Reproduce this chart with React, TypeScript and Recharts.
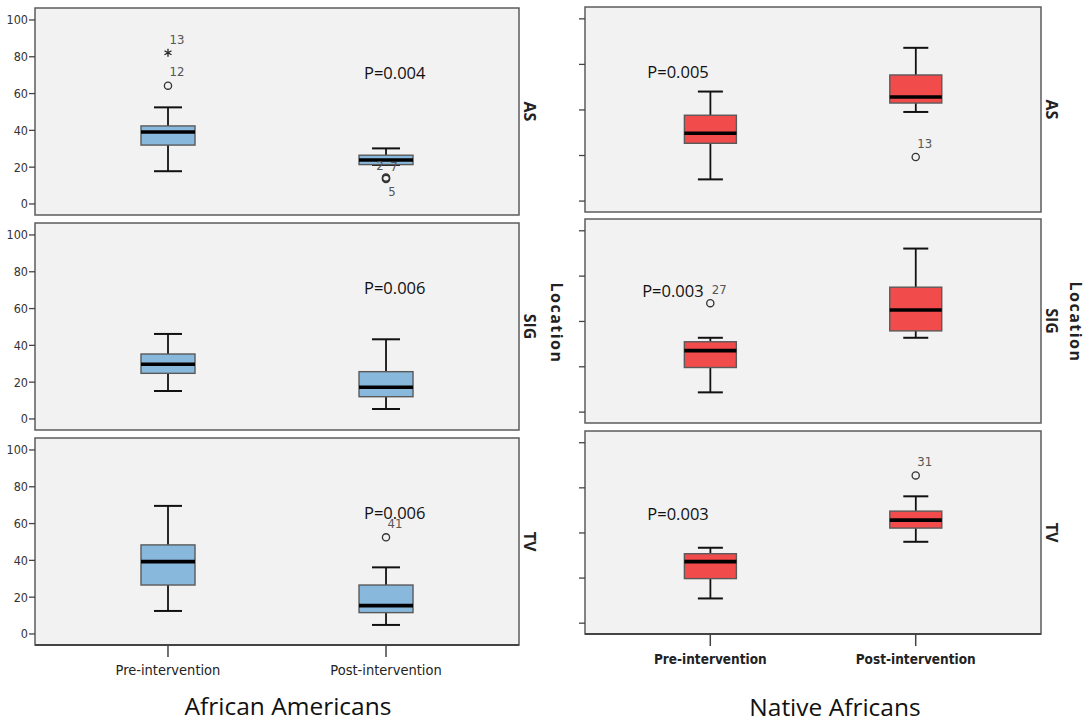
import React from 'react'
import { ComposedChart, Bar, Scatter, XAxis, YAxis, ReferenceArea } from 'recharts'

const groups = ['Pre-intervention', 'Post-intervention']
const measures = ['AS', 'SIG', 'TV']

// box stats per group: [whiskerLow, q1, median, q3, whiskerHigh]
const aaAS = [[17.8, 32.0, 39.1, 42.4, 52.5], [21.2, 21.4, 23.9, 26.5, 30.2]]
const aaSIG = [[15.2, 24.8, 29.7, 35.3, 46.2], [5.4, 12.1, 17.2, 25.7, 43.3]]
const aaTV = [[12.5, 26.6, 39.3, 48.4, 69.6], [4.9, 11.6, 15.4, 26.6, 36.2]]

const naAS = [[11.9, 31.7, 37.2, 47.1, 60.1], [48.9, 53.8, 57.1, 69.2, 84.1]]
const naSIG = [[10.9, 24.6, 33.9, 38.8, 41.0], [41.0, 44.8, 56.3, 68.9, 90.2]]
const naTV = [[13.7, 24.7, 34.1, 38.5, 41.8], [45.1, 52.7, 57.1, 62.1, 70.3]]

// outliers: group index (1 = pre, 2 = post), value, case id
const aaASOut = [
  { g: 1, v: 82.2, id: '13', kind: 'extreme' },
  { g: 1, v: 64.3, id: '12', kind: 'outlier' },
  { g: 2, v: 14.4, id: '2', kind: 'outlier' },
  { g: 2, v: 14.0, id: '7', kind: 'outlier' },
  { g: 2, v: 13.6, id: '5', kind: 'outlier' },
]
const aaSIGOut: any[] = []
const aaTVOut = [{ g: 2, v: 52.5, id: '41', kind: 'outlier' }]
const naASOut = [{ g: 2, v: 24.2, id: '13', kind: 'outlier' }]
const naSIGOut = [{ g: 1, v: 60.1, id: '27', kind: 'outlier' }]
const naTVOut = [{ g: 2, v: 81.9, id: '31', kind: 'outlier' }]

const aaP = ['P=0.004', 'P=0.006', 'P=0.006']
const naP = ['P=0.005', 'P=0.003', 'P=0.003']

const leftTicks = [0, 20, 40, 60, 80, 100]
const rightTicks = [0, 25, 50, 75, 100]

// annotation anchors, in data units
const aaPPos = [[2.04, 71.4], [2.04, 71.4], [2.04, 65.9]]
const naPPos = [[0.843, 71.0], [0.818, 67.2], [0.843, 61.0]]

// label offsets (px) for some case ids, default is up-right
const labelShift: Record<string, [number, number]> = {
  '2': [-6, -12],
  '7': [8, -12],
  '5': [6, 13],
  '13': [9, -13],
}

const X_DOMAIN: [number, number] = [0.39, 2.61]
const Y_DOMAIN: [number, number] = [-6, 106.5]
const narrow = "'Liberation Sans Narrow', 'DejaVu Sans Condensed', sans-serif"

function BoxShape(props: any) {
  const { x, y, width, height, payload, fill, capW, boxW } = props
  const stats = payload && payload.stats
  if (!stats || x == null || y == null) return null
  const [lo, q1, med, q3, hi] = stats
  const top = Math.min(y, y + height)
  const bot = Math.max(y, y + height)
  const py = (v: number) => top + ((bot - top) * (hi - v)) / (hi - lo || 1)
  const cx = x + width / 2
  const bx = cx - boxW / 2
  return (
    <g>
      <line x1={cx} x2={cx} y1={py(hi)} y2={py(q3)} stroke="#111" strokeWidth={1.8} />
      <line x1={cx} x2={cx} y1={py(q1)} y2={py(lo)} stroke="#111" strokeWidth={1.8} />
      <line x1={cx - capW / 2} x2={cx + capW / 2} y1={py(hi)} y2={py(hi)} stroke="#111" strokeWidth={2} />
      <line x1={cx - capW / 2} x2={cx + capW / 2} y1={py(lo)} y2={py(lo)} stroke="#111" strokeWidth={2} />
      <rect x={bx} y={py(q3)} width={boxW} height={py(q1) - py(q3)} fill={fill} stroke="#5a5a5a" strokeWidth={1.4} />
      <line x1={bx} x2={bx + boxW} y1={py(med)} y2={py(med)} stroke="#000" strokeWidth={3.6} />
    </g>
  )
}

function OutlierShape(props: any) {
  const { cx, cy, payload } = props
  if (!payload || cx == null || cy == null) return null
  const [dx, dy] = labelShift[payload.id] || [9, -14]
  const mark =
    payload.kind === 'extreme' ? (
      <g stroke="#222" strokeWidth={1.3}>
        <line x1={cx} x2={cx} y1={cy - 4} y2={cy + 4} />
        <line x1={cx - 3.5} x2={cx + 3.5} y1={cy - 2} y2={cy + 2} />
        <line x1={cx - 3.5} x2={cx + 3.5} y1={cy + 2} y2={cy - 2} />
      </g>
    ) : (
      <circle cx={cx} cy={cy} r={3.6} fill="none" stroke="#333" strokeWidth={1.3} />
    )
  return (
    <g>
      {mark}
      <text x={cx + dx} y={cy + dy} textAnchor="middle" dominantBaseline="central" fontSize={13} fontFamily={narrow} fill="#555">
        {payload.id}
      </text>
    </g>
  )
}

function PText(props: any) {
  const { cx, cy, payload } = props
  if (!payload || cx == null) return null
  return (
    <text x={cx} y={cy} textAnchor="middle" dominantBaseline="central" fontSize={16.5} fontFamily="'Open Sans', sans-serif" fill="#111">
      {payload.text}
    </text>
  )
}

const boxRange = (d: any) => (d && d.stats ? [d.stats[0], d.stats[4]] : null)

function Panel(p: any) {
  const boxes = p.stats.map((s: number[], i: number) => ({ x: i + 1, stats: s }))
  const outPts = p.outliers.map((o: any) => ({ x: o.g, y: o.v, id: o.id, kind: o.kind }))
  const axisH = p.bottomAxis ? 40 : 0
  return (
    <div style={{ position: 'absolute', left: p.left, top: p.top - 2 }}>
      <ComposedChart
        width={p.width}
        height={p.plotH + 4 + axisH}
        data={boxes}
        margin={{ top: 2, right: p.right, bottom: 2, left: 0 }}
      >
        <XAxis
          type="number"
          dataKey="x"
          domain={X_DOMAIN}
          ticks={[1, 2]}
          allowDataOverflow
          hide={!p.bottomAxis}
          height={axisH || 1}
          tickSize={12}
          tickMargin={8}
          tickFormatter={(v: number) => groups[v - 1] || ''}
          tick={{ fontSize: p.boldX ? 13.5 : 14.5, fontFamily: narrow, fill: '#222', fontWeight: p.boldX ? 700 : 400 }}
          tickLine={{ stroke: '#444', strokeWidth: 1.5 }}
          axisLine={{ stroke: '#444', strokeWidth: 2 }}
        />
        <YAxis
          type="number"
          dataKey="y"
          domain={Y_DOMAIN}
          ticks={p.ticks}
          allowDataOverflow
          width={p.yWidth}
          tickSize={6}
          tickMargin={1}
          axisLine={false}
          tickLine={{ stroke: '#444', strokeWidth: 1.3 }}
          tick={{ fontSize: 12.5, fontFamily: narrow, fill: '#333' }}
          tickFormatter={(v: number) => (p.showYLabels ? String(v) : '')}
        />
        <ReferenceArea
          x1={X_DOMAIN[0]}
          x2={X_DOMAIN[1]}
          y1={Y_DOMAIN[0]}
          y2={Y_DOMAIN[1]}
          fill="#f2f2f2"
          fillOpacity={1}
          stroke="#5c5c5c"
          strokeWidth={1.5}
        />
        <Bar
          dataKey={boxRange}
          fill={p.fill}
          isAnimationActive={false}
          shape={(s: any) => <BoxShape {...s} fill={p.fill} capW={p.capW} boxW={p.barW} />}
        />
        <Scatter data={outPts} isAnimationActive={false} shape={(s: any) => <OutlierShape {...s} />} />
        <Scatter
          data={[{ x: p.pPos[0], y: p.pPos[1], text: p.pText }]}
          isAnimationActive={false}
          shape={(s: any) => <PText {...s} />}
        />
      </ComposedChart>
    </div>
  )
}

const leftTops = [8, 223, 438]
const leftH = [207, 207, 207]
const rightTops = [7, 219, 431]
const rightH = [205, 204, 203]

export default function App() {
  const aaStats = [aaAS, aaSIG, aaTV]
  const naStats = [naAS, naSIG, naTV]
  const aaOut = [aaASOut, aaSIGOut, aaTVOut]
  const naOut = [naASOut, naSIGOut, naTVOut]
  const sideFont = "'Open Sans', sans-serif"
  return (
    <div style={{ position: 'absolute', left: 0, top: 0, width: 1086, height: 723, background: '#fff' }}>
      {measures.map((m, i) => (
        <Panel
          key={'aa' + m}
          left={0}
          top={leftTops[i]}
          width={560}
          plotH={leftH[i]}
          yWidth={35}
          right={41}
          stats={aaStats[i]}
          outliers={aaOut[i]}
          pText={aaP[i]}
          pPos={aaPPos[i]}
          ticks={leftTicks}
          showYLabels
          fill="#88b9dd"
          capW={28}
          barW={54}
          bottomAxis={i === 2}
          boldX={false}
        />
      ))}
      {measures.map((m, i) => (
        <Panel
          key={'na' + m}
          left={545}
          top={rightTops[i]}
          width={541}
          plotH={rightH[i]}
          yWidth={40}
          right={45}
          stats={naStats[i]}
          outliers={naOut[i]}
          pText={naP[i]}
          pPos={naPPos[i]}
          ticks={rightTicks}
          showYLabels={false}
          fill="#f24b4b"
          capW={25}
          barW={52}
          bottomAxis={i === 2}
          boldX
        />
      ))}
      <svg width={1086} height={723} style={{ position: 'absolute', left: 0, top: 0, pointerEvents: 'none' }}>
        {measures.map((m, i) => (
          <g key={m}>
            <text transform={`translate(530, ${leftTops[i] + leftH[i] / 2}) rotate(90)`} textAnchor="middle" dominantBaseline="central" fontSize={16} fontWeight={700} fontFamily={sideFont} fill="#222">
              {m}
            </text>
            <text transform={`translate(1052, ${rightTops[i] + rightH[i] / 2}) rotate(90)`} textAnchor="middle" dominantBaseline="central" fontSize={16} fontWeight={700} fontFamily={sideFont} fill="#222">
              {m}
            </text>
          </g>
        ))}
        <text transform="translate(557, 323) rotate(90)" textAnchor="middle" dominantBaseline="central" fontSize={16} fontWeight={700} letterSpacing={1.5} fontFamily={sideFont} fill="#222">
          Location
        </text>
        <text transform="translate(1076, 322) rotate(90)" textAnchor="middle" dominantBaseline="central" fontSize={16} fontWeight={700} letterSpacing={1.5} fontFamily={sideFont} fill="#222">
          Location
        </text>
        <text x={288} y={705} textAnchor="middle" dominantBaseline="central" fontSize={24.5} fontFamily={sideFont} fill="#111">
          African Americans
        </text>
        <text x={835} y={706} textAnchor="middle" dominantBaseline="central" fontSize={24.5} fontFamily={sideFont} fill="#111">
          Native Africans
        </text>
      </svg>
    </div>
  )
}
